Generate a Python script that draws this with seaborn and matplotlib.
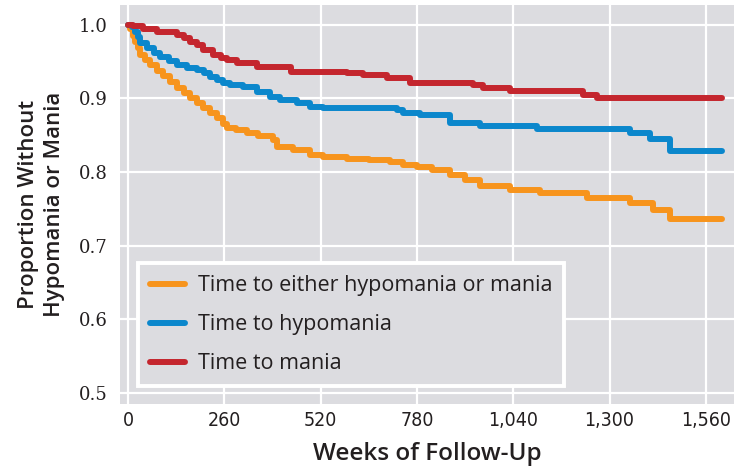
import matplotlib
matplotlib.use("Agg")
import matplotlib.pyplot as plt
import seaborn as sns
import pandas as pd

# ---- data ----
series_names = ["Time to either hypomania or mania", "Time to hypomania", "Time to mania"]

either_t = [0, 5, 12, 19, 26, 32, 45, 59, 77, 95, 113, 132, 150, 167, 185, 203, 221, 240, 255, 267,
            290, 321, 350, 391, 402, 446, 491, 527, 591, 650, 707, 743, 780, 820, 869, 910, 950,
            1031, 1112, 1239, 1355, 1418, 1463, 1604]
either_v = [1.0, 0.995, 0.985, 0.977, 0.968, 0.959, 0.952, 0.946, 0.938, 0.930, 0.922, 0.914, 0.907,
            0.901, 0.894, 0.887, 0.880, 0.874, 0.866, 0.860, 0.857, 0.853, 0.849, 0.844, 0.834, 0.830,
            0.823, 0.821, 0.818, 0.816, 0.814, 0.810, 0.807, 0.803, 0.796, 0.789, 0.781, 0.776, 0.772,
            0.765, 0.758, 0.749, 0.736, 0.736]

hypo_t = [0, 10, 19, 26, 32, 51, 70, 86, 110, 132, 160, 186, 205, 221, 240, 256, 275, 311, 348, 383,
          410, 456, 491, 527, 726, 743, 788, 869, 950, 1104, 1355, 1409, 1463, 1604]
hypo_v = [1.0, 0.997, 0.990, 0.983, 0.976, 0.969, 0.962, 0.957, 0.951, 0.946, 0.942, 0.939, 0.934,
          0.929, 0.925, 0.921, 0.918, 0.915, 0.909, 0.902, 0.898, 0.894, 0.889, 0.887, 0.885, 0.880,
          0.877, 0.867, 0.863, 0.859, 0.853, 0.845, 0.829, 0.829]

mania_t = [0, 14, 41, 78, 132, 150, 167, 185, 203, 229, 250, 267, 294, 348, 440, 591, 634, 699, 761,
           932, 959, 1031, 1229, 1266, 1604]
mania_v = [1.0, 0.998, 0.995, 0.990, 0.986, 0.982, 0.977, 0.972, 0.966, 0.959, 0.955, 0.952, 0.948,
           0.943, 0.936, 0.934, 0.932, 0.928, 0.921, 0.918, 0.914, 0.910, 0.905, 0.901, 0.900]

x_ticks = [0, 260, 520, 780, 1040, 1300, 1560]
x_tick_labels = ["0", "260", "520", "780", "1,040", "1,300", "1,560"]
y_ticks = [0.5, 0.6, 0.7, 0.8, 0.9, 1.0]
y_tick_labels = ["0.5", "0.6", "0.7", "0.8", "0.9", "1.0"]

colors = ["#f7941d", "#0b87cc", "#c4262e"]

frames = []
for name, t, v in zip(series_names, [either_t, hypo_t, mania_t], [either_v, hypo_v, mania_v]):
    frames.append(pd.DataFrame({"weeks": t, "prop": v, "series": name}))
df = pd.concat(frames, ignore_index=True)

# ---- style ----
sns.set_theme(style="darkgrid", rc={
    "axes.facecolor": "#dcdce0",
    "grid.color": "white",
    "grid.linewidth": 1.6,
    "figure.facecolor": "white",
})
plt.rcParams["font.family"] = ["Open Sans", "DejaVu Sans"]

txt = "#231f20"
fig = plt.figure(figsize=(7.34, 4.69), dpi=100)
ax = fig.add_axes([120 / 734, 1 - 404 / 469, 614 / 734, 399 / 469])

sns.lineplot(data=df, x="weeks", y="prop", hue="series", hue_order=series_names,
             palette=colors, estimator=None, sort=False, drawstyle="steps-post",
             linewidth=4.3, ax=ax, legend=True)

ax.set_xlim(-22, 1636)
ax.set_ylim(0.485, 1.027)
ax.set_xticks(x_ticks)
ax.set_xticklabels(x_tick_labels, family=["DejaVu Sans", "Open Sans"], stretch="condensed",
                   fontsize=14, color=txt)
ax.set_yticks(y_ticks)
ax.set_yticklabels(y_tick_labels, family=["DejaVu Serif", "Liberation Serif"], fontsize=13,
                   color=txt)
ax.tick_params(axis="x", pad=5, length=0)
ax.tick_params(axis="y", pad=9, length=0)
for s in ax.spines.values():
    s.set_visible(False)

ax.set_xlabel("Weeks of Follow-Up", fontsize=17.5, fontweight="semibold", color=txt, labelpad=9)
ax.set_ylabel("Proportion Without\nHypomania or Mania", fontsize=16, fontweight="semibold",
              color=txt, labelpad=10, linespacing=1.3)

handles, labels = ax.get_legend_handles_labels()
leg = ax.legend(handles, labels, loc="lower left", bbox_to_anchor=(0.0293, 0.045),
                borderaxespad=0, frameon=True, fancybox=False, fontsize=15.5,
                handlelength=1.63, handletextpad=0.6, labelspacing=0.84,
                borderpad=0.55)
leg.get_frame().set_facecolor("#dcdce0")
leg.get_frame().set_edgecolor("white")
leg.get_frame().set_linewidth(2.8)
leg.get_frame().set_alpha(1)
for h in leg.get_lines():
    h.set_linewidth(4.3)
for t in leg.get_texts():
    t.set_color(txt)

fig.savefig("out.png", dpi=100)
